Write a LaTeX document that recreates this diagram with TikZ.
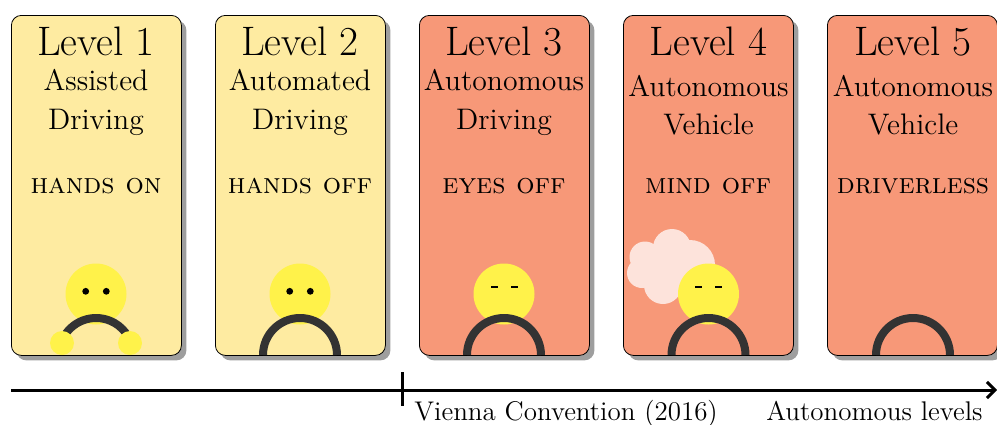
\documentclass[tikz,border=0pt]{standalone}
\usetikzlibrary{shadows,arrows.meta}
\definecolor{lvlyellow}{HTML}{FEEBA1}
\definecolor{lvlorange}{HTML}{F79878}
\definecolor{facecol}{HTML}{FFF24A}
\definecolor{wheelcol}{HTML}{333333}
\definecolor{cloudcol}{HTML}{FDE3DB}
\tikzset{
  x=0.5pt,y=-0.5pt,
  levelbox/.style={draw=black,line width=0.4pt,rounded corners=5pt,minimum width=85pt,minimum height=170pt,inner sep=0pt,anchor=north west,
    drop shadow={shadow xshift=2.5pt,shadow yshift=-2.5pt,fill=black!38,opacity=1}},
  lvltitle/.style={anchor=base,inner sep=0pt,font=\fontsize{20.6}{22}\selectfont},
  lvlsub/.style={anchor=base,inner sep=0pt,font=\fontsize{14.85}{16}\selectfont},
  lvlmode/.style={anchor=base,inner sep=0pt,font=\fontsize{14.4}{16}\selectfont\scshape},
  axislabel/.style={anchor=base west,inner sep=0pt,font=\fontsize{13.5}{16}\selectfont},
  facedisc/.style={circle,fill=facecol,draw=none,minimum size=30.5pt,inner sep=0pt},
  handdisc/.style={circle,fill=facecol,draw=none,minimum size=12pt,inner sep=0pt},
  wheelarc/.style={draw=wheelcol,line width=4pt},
  axisline/.style={draw=black,line width=1.5pt},
  clouddisc/.style={fill=cloudcol,draw=none},
}
\begin{document}
\begin{tikzpicture}
\useasboundingbox (0,0) rectangle (997,424);
% boxes
\node[levelbox,fill=lvlyellow] (b1) at (11,15) {};
\node[levelbox,fill=lvlyellow] (b2) at (215,15) {};
\node[levelbox,fill=lvlorange] (b3) at (419,15) {};
\node[levelbox,fill=lvlorange] (b4) at (623,15) {};
\node[levelbox,fill=lvlorange] (b5) at (827,15) {};
% titles
\node[lvltitle] (t1) at (96,55) {Level 1};
\node[lvltitle] (t2) at (300,55) {Level 2};
\node[lvltitle] (t3) at (504,55) {Level 3};
\node[lvltitle] (t4) at (708.5,55) {Level 4};
\node[lvltitle] (t5) at (913,55) {Level 5};
\node[lvlsub] (s1a) at (96,90) {Assisted};
\node[lvlsub] (s1b) at (96,129) {Driving};
\node[lvlsub] (s2a) at (300,90) {Automated};
\node[lvlsub] (s2b) at (300,129) {Driving};
\node[lvlsub] (s3a) at (504,90) {Autonomous};
\node[lvlsub] (s3b) at (504,129) {Driving};
\node[lvlsub] (s4a) at (708.5,96) {Autonomous};
\node[lvlsub] (s4b) at (708.5,134) {Vehicle};
\node[lvlsub] (s5a) at (913,96) {Autonomous};
\node[lvlsub] (s5b) at (913,134) {Vehicle};
\node[lvlmode] (m1) at (96,193) {hands on};
\node[lvlmode] (m2) at (300,193) {hands off};
\node[lvlmode] (m3) at (504,193) {eyes off};
\node[lvlmode] (m4) at (708,193) {mind off};
\node[lvlmode] (m5) at (913,193) {driverless};
% cloud
\fill[clouddisc] (672,248) circle[radius=19];
\fill[clouddisc] (645,257) circle[radius=15.5];
\fill[clouddisc] (642,273) circle[radius=15];
\fill[clouddisc] (663,285) circle[radius=19];
\fill[clouddisc] (690,265) circle[radius=25];
\fill[clouddisc] (667,267) circle[radius=24];
% faces
\node[facedisc] (f1) at (96,294) {};
\node[facedisc] (f2) at (300,294) {};
\node[facedisc] (f3) at (504,294) {};
\node[facedisc] (f4) at (708.5,294) {};
\foreach \c in {96,300}{
  \fill (\c-10.3,291.3) circle[radius=3.4];
  \fill (\c+10.3,291.3) circle[radius=3.4];
}
\foreach \c in {504.5,708.5}{
  \fill (\c-13.5,286.3) rectangle (\c-7,288.4);
  \fill (\c+6.5,286.3) rectangle (\c+13.5,288.4);
}
% wheels
\draw[wheelarc] (64,336.5) arc[start angle=150,end angle=30,radius=18.5pt];
\foreach \c in {300,504,708.5,913}{
  \draw[wheelarc] (\c-37,355) arc[start angle=180,end angle=0,radius=18.5pt];
}
\node[handdisc] (h1) at (62,343) {};
\node[handdisc] (h2) at (130,343) {};
% axis
\coordinate (axl) at (11,390);
\coordinate (axr) at (997,390);
\coordinate (tickt) at (402,372);
\coordinate (tickb) at (402,406);
\draw[axisline,-{Straight Barb[length=4pt,width=8pt]}] (axl) -- (axr);
\draw[axisline] (tickt) -- (tickb);
\node[axislabel] (vc) at (414,420) {Vienna Convention (2016)};
\node[axislabel] (al) at (766,420) {Autonomous levels};
\end{tikzpicture}
\end{document}
